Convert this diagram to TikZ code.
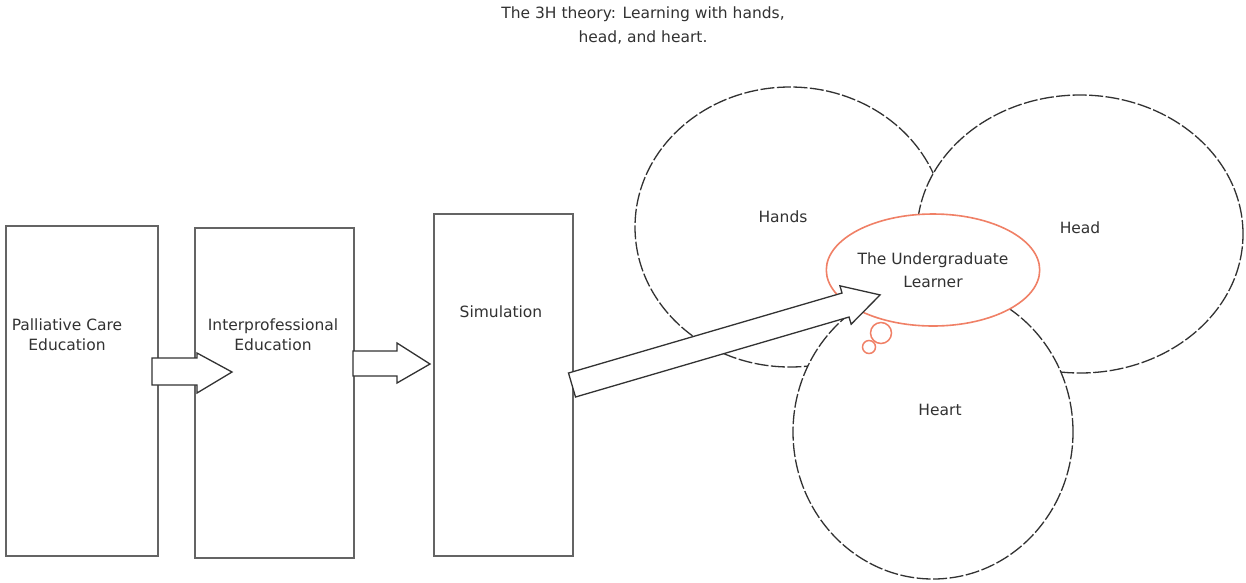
\documentclass[tikz,border=0pt]{standalone}
\usepackage{fontspec}
\setmainfont{DejaVu Sans}
\usetikzlibrary{shapes.geometric}
\definecolor{ink}{RGB}{50,50,50}
\definecolor{edge}{RGB}{100,100,100}
\definecolor{coral}{RGB}{240,128,102}

\begin{document}
\begin{tikzpicture}[x=1pt,y=-1pt,
  every node/.style={font=\fontsize{15.5}{20}\selectfont, text=ink},
  stagebox/.style={draw=edge, line width=1.8pt, fill=white, inner sep=0pt, anchor=north west},
  zone/.style={ellipse, draw=ink, line width=1.3pt, dash pattern=on 14pt off 2.5pt, fill=white, inner sep=0pt},
  learner/.style={ellipse, draw=coral, line width=1.6pt, fill=white, inner sep=0pt, align=center,
    font=\fontsize{15.5}{23}\selectfont},
  bubble/.style={circle, draw=coral, line width=1.5pt, fill=white, inner sep=0pt},
  blockarrow/.style={draw=ink, line width=1.3pt, fill=white, line join=miter}]

\path[use as bounding box] (0,0) rectangle (1246,582);

% title
\node[align=center, font=\fontsize{15.5}{24}\selectfont] (title) at (643,26)
  {The 3H theory: Learning with hands,\\head, and heart.};

% the three stages
\node[stagebox, minimum width=152pt, minimum height=330pt] (pce) at (5,225) {};
\node[stagebox, minimum width=159pt, minimum height=330pt] (ipe) at (194,227) {};
\node[stagebox, minimum width=139pt, minimum height=342pt] (sim) at (433,213) {};
\node[align=center] (pcetext) at (67,335) {Palliative Care\\Education};
\node[align=center] (ipetext) at (273,335) {Interprofessional\\Education};
\node (simtext) at (501,312) {Simulation};

% arrows between the stages
\draw[blockarrow] (152,358) -- (197,358) -- (197,353) -- (232,372)
  -- (197,393) -- (197,385) -- (152,385) -- cycle;
\draw[blockarrow] (353,351) -- (397,351) -- (397,343) -- (430,364)
  -- (397,383) -- (397,376) -- (353,376) -- cycle;

% hands, head and heart
\node[zone, minimum width=310pt, minimum height=280pt] (hands) at (790,227) {};
\node[zone, minimum width=326pt, minimum height=278pt] (head) at (1080,234) {};
\node[zone, minimum width=280pt, minimum height=294pt] (heart) at (933,432) {};
\node (handstext) at (783,217) {Hands};
\node (headtext) at (1080,228) {Head};
\node (hearttext) at (940,410) {Heart};

% the learner as a thought bubble
\node[learner, minimum width=210pt, minimum height=112pt] (learner) at (933,270)
  {The Undergraduate\\Learner};
\node[bubble, minimum size=13pt] (bubbleB) at (869,347) {};
\node[bubble, minimum size=21pt] (bubbleA) at (881,333) {};

% long arrow from simulation to the learner
\begin{scope}[shift={(572,385)}, rotate=16.3]
  \draw[blockarrow] (0,-12.5) -- (285,-12.5) -- (285,-20) -- (321,0)
    -- (285,20) -- (285,12.5) -- (0,12.5) -- cycle;
\end{scope}
\end{tikzpicture}
\end{document}
